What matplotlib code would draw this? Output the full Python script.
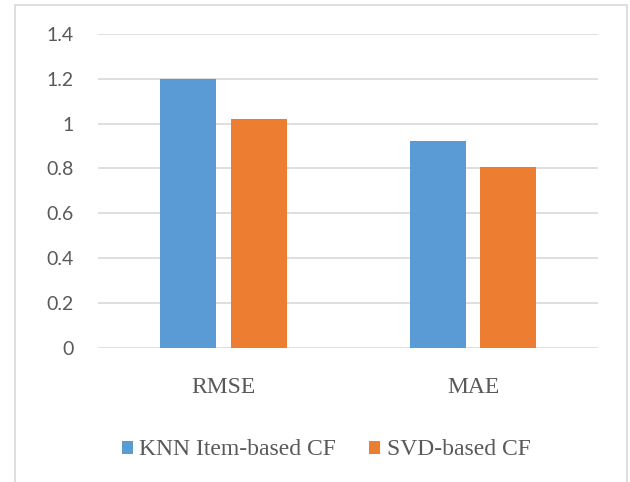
import matplotlib
matplotlib.use("Agg")
import matplotlib.pyplot as plt
from matplotlib import font_manager
import numpy as np
from matplotlib.patches import Rectangle

# error metrics for the two recommenders
metrics = ["RMSE", "MAE"]
knn_item_cf = [1.198, 0.921]
svd_cf = [1.019, 0.806]
series_names = ["KNN Item-based CF", "SVD-based CF"]
y_ticks = [0, 0.2, 0.4, 0.6, 0.8, 1.0, 1.2, 1.4]
y_tick_labels = ["0", "0.2", "0.4", "0.6", "0.8", "1", "1.2", "1.4"]

blue = "#5B9BD5"
orange = "#ED7D31"
grid_gray = "#D9D9D9"
text_gray = "#595959"

serif = font_manager.FontProperties(family="Liberation Serif", size=17)
sans = font_manager.FontProperties(family="Lato", size=14)

fig = plt.figure(figsize=(6.3, 4.82), dpi=100)
ax = fig.add_axes([0.1563, 0.2786, 0.7927, 0.6509])

x = np.arange(len(metrics))
width = 0.225
offset = 0.1417
ax.bar(x - offset, knn_item_cf, width, color=blue, label=series_names[0], zorder=3)
ax.bar(x + offset, svd_cf, width, color=orange, label=series_names[1], zorder=3)

ax.set_xlim(-0.5, 1.5)
ax.set_ylim(0, 1.4)
ax.set_yticks(y_ticks)
ax.set_yticklabels(y_tick_labels)
ax.set_xticks(x)
ax.set_xticklabels(metrics)
for t in ax.get_yticklabels():
    t.set_fontproperties(sans)
    t.set_color(text_gray)
for t in ax.get_xticklabels():
    t.set_fontproperties(serif)
    t.set_color(text_gray)
ax.tick_params(axis="y", length=0, pad=18)
ax.tick_params(axis="x", length=0, pad=21)

for v in y_ticks:
    ax.axhline(v, color=grid_gray, linewidth=1.2, zorder=1)
for s in ax.spines.values():
    s.set_visible(False)

leg = fig.legend(loc="center", bbox_to_anchor=(326 / 630, 0.0664), ncol=2,
                 frameon=False, handlelength=0.47, handleheight=0.47,
                 handletextpad=0.27, columnspacing=1.4, prop=serif)
for t in leg.get_texts():
    t.set_color(text_gray)

# outer chart border
fig.patches.append(Rectangle((15 / 630, -0.02), 612 / 630, 1 - 5 / 482 + 0.02,
                             transform=fig.transFigure, fill=False,
                             edgecolor=grid_gray, linewidth=1.2))

fig.savefig("out.png", dpi=100)
